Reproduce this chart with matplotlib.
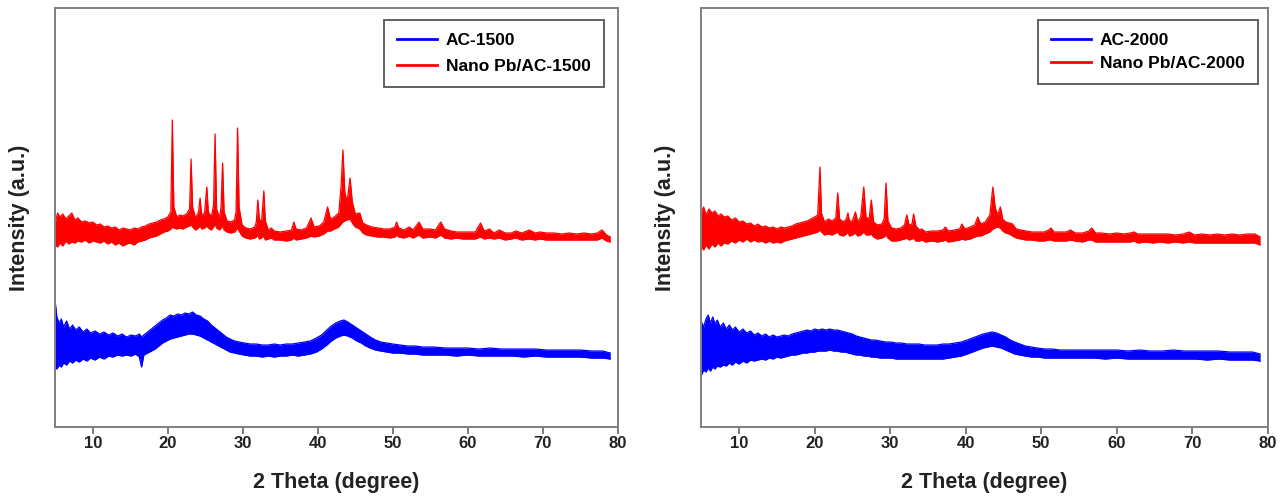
import matplotlib
matplotlib.use("Agg")
import matplotlib.pyplot as plt

plt.rcParams['font.family'] = ['Liberation Sans', 'DejaVu Sans']

# XRD traces: (2theta, lower edge, upper edge) of the noisy band
nano_1500 = [
    (5.0, 182, 205), (5.3, 180, 214), (5.6, 184, 210), (6.0, 181, 213), (6.4, 186, 208),
    (6.8, 183, 211), (7.2, 185, 214), (7.6, 184, 207), (8.0, 186, 209), (8.5, 185, 205),
    (9.0, 187, 206), (9.5, 184, 204), (10.0, 186, 205), (10.5, 185, 202), (11.0, 184, 203),
    (11.5, 186, 200), (12.0, 183, 201), (12.5, 185, 199), (13.0, 182, 200), (13.5, 184, 197),
    (14.0, 181, 199), (14.5, 183, 198), (15.0, 184, 197), (15.5, 182, 199), (16.0, 185, 198),
    (16.5, 186, 200), (17.0, 187, 201), (17.5, 189, 203), (18.0, 190, 204), (18.5, 191, 205),
    (19.0, 193, 207), (19.5, 195, 208), (20.0, 196, 210), (20.4, 198, 215), (20.6, 200, 307),
    (20.8, 199, 220), (21.2, 198, 210), (21.6, 199, 212), (22.0, 198, 211), (22.5, 200, 213),
    (22.9, 201, 218), (23.1, 203, 268), (23.3, 200, 220), (23.7, 197, 209), (24.1, 199, 215),
    (24.3, 202, 229), (24.5, 198, 212), (24.9, 199, 214), (25.2, 201, 240), (25.4, 199, 215),
    (25.8, 197, 210), (26.1, 200, 222), (26.3, 203, 293), (26.5, 199, 218), (26.9, 197, 209),
    (27.1, 199, 220), (27.3, 201, 264), (27.5, 197, 215), (27.9, 195, 206), (28.4, 194, 205),
    (28.9, 195, 207), (29.1, 197, 215), (29.3, 199, 299), (29.5, 196, 220), (29.9, 191, 202),
    (30.4, 189, 199), (31.0, 188, 198), (31.6, 189, 200), (31.8, 190, 205), (32.0, 192, 227),
    (32.2, 188, 208), (32.5, 189, 205), (32.8, 191, 236), (33.0, 187, 206), (33.4, 188, 197),
    (33.8, 189, 199), (34.2, 187, 196), (35.0, 187, 195), (35.8, 186, 196), (36.5, 187, 197),
    (36.8, 189, 205), (37.1, 187, 198), (37.8, 188, 197), (38.5, 189, 199), (39.1, 191, 209),
    (39.5, 190, 200), (40.2, 191, 201), (40.8, 193, 205), (41.3, 196, 220), (41.7, 196, 208),
    (42.2, 198, 210), (42.8, 200, 214), (43.1, 203, 240), (43.35, 205, 277), (43.6, 206, 235),
    (43.9, 207, 225), (44.3, 208, 249), (44.6, 204, 225), (45.0, 200, 213), (45.6, 198, 214),
    (46.0, 194, 204), (46.5, 192, 202), (47.2, 191, 200), (48.0, 190, 199), (48.8, 190, 198),
    (49.6, 189, 198), (50.3, 190, 200), (50.5, 192, 205), (50.8, 190, 199), (51.5, 189, 197),
    (52.2, 191, 200), (52.7, 189, 197), (53.5, 192, 205), (54.0, 189, 198), (55.0, 190, 198),
    (55.7, 189, 197), (56.4, 192, 205), (56.9, 189, 198), (57.8, 188, 196), (58.5, 189, 195),
    (59.3, 188, 195), (60.2, 188, 195), (61.0, 188, 195), (61.7, 190, 204), (62.2, 188, 196),
    (62.9, 189, 198), (63.5, 188, 194), (64.2, 189, 197), (65.0, 187, 194), (65.8, 188, 194),
    (66.4, 189, 196), (67.2, 187, 194), (68.2, 188, 197), (69.0, 187, 194), (69.6, 188, 195),
    (70.5, 187, 194), (71.5, 187, 194), (72.5, 187, 193), (73.5, 187, 194), (74.5, 187, 193),
    (75.5, 187, 194), (76.5, 187, 193), (77.3, 187, 194), (77.9, 189, 197), (78.5, 186, 192),
    (79.0, 185, 190),
]

ac_1500 = [
    (5.0, 60, 124), (5.2, 58, 110), (5.5, 62, 104), (5.8, 60, 108), (6.1, 64, 100),
    (6.5, 62, 106), (6.9, 66, 98), (7.3, 64, 102), (7.7, 67, 97), (8.2, 65, 100),
    (8.7, 68, 95), (9.2, 66, 98), (9.7, 69, 94), (10.3, 67, 96), (10.9, 70, 93),
    (11.5, 68, 95), (12.1, 71, 92), (12.7, 70, 94), (13.3, 72, 91), (13.9, 71, 93),
    (14.5, 72, 90), (15.1, 71, 92), (15.7, 73, 91), (16.2, 70, 93), (16.5, 60, 90),
    (16.8, 72, 92), (17.3, 74, 95), (17.8, 76, 98), (18.3, 78, 101), (18.8, 81, 104),
    (19.3, 84, 107), (19.8, 86, 109), (20.3, 88, 112), (20.8, 89, 111), (21.3, 90, 113),
    (21.8, 91, 112), (22.3, 92, 114), (22.8, 93, 113), (23.3, 93, 115), (23.8, 92, 112),
    (24.3, 91, 111), (24.8, 89, 108), (25.3, 87, 106), (25.8, 85, 102), (26.3, 83, 99),
    (26.8, 81, 96), (27.3, 79, 93), (27.8, 77, 90), (28.3, 75, 88), (28.9, 74, 86),
    (29.5, 73, 85), (30.2, 72, 84), (31.0, 71, 83), (31.8, 71, 83), (32.6, 70, 82),
    (33.4, 71, 82), (34.2, 70, 83), (35.0, 71, 82), (35.8, 71, 83), (36.6, 72, 83),
    (37.4, 71, 84), (38.2, 72, 85), (39.0, 73, 86), (39.8, 75, 89), (40.5, 78, 92),
    (41.2, 82, 97), (41.8, 86, 101), (42.4, 89, 104), (43.0, 91, 106), (43.5, 92, 107),
    (44.0, 91, 105), (44.6, 89, 102), (45.2, 86, 99), (45.8, 84, 96), (46.4, 81, 93),
    (47.0, 79, 90), (47.7, 77, 87), (48.4, 76, 85), (49.2, 75, 84), (50.0, 74, 83),
    (51.0, 74, 82), (52.0, 73, 81), (53.0, 73, 81), (54.0, 72, 80), (55.5, 72, 80),
    (57.0, 72, 79), (58.5, 71, 79), (60.0, 72, 79), (61.5, 71, 78), (63.0, 71, 79),
    (64.5, 71, 78), (66.0, 71, 78), (67.5, 70, 78), (69.0, 71, 78), (70.5, 70, 77),
    (72.0, 70, 77), (73.5, 70, 77), (75.0, 70, 77), (76.5, 69, 76), (78.0, 69, 76),
    (79.0, 68, 74),
]

nano_2000 = [
    (5.0, 180, 215), (5.3, 177, 220), (5.6, 182, 212), (6.0, 178, 218), (6.4, 183, 214),
    (6.8, 180, 216), (7.2, 184, 211), (7.6, 181, 213), (8.0, 184, 210), (8.5, 183, 211),
    (9.0, 186, 207), (9.5, 184, 209), (10.0, 187, 205), (10.5, 185, 206), (11.0, 188, 203),
    (11.5, 185, 204), (12.0, 187, 201), (12.5, 185, 203), (13.0, 186, 200), (13.5, 184, 201),
    (14.0, 186, 199), (14.5, 184, 200), (15.0, 185, 198), (15.5, 184, 200), (16.0, 186, 199),
    (16.5, 187, 200), (17.0, 188, 201), (17.5, 189, 203), (18.0, 190, 204), (18.5, 191, 205),
    (19.0, 192, 206), (19.5, 193, 208), (20.0, 194, 210), (20.4, 195, 212), (20.7, 197, 260),
    (20.9, 195, 214), (21.3, 192, 205), (21.8, 193, 208), (22.3, 192, 206), (22.8, 194, 209),
    (23.05, 195, 234), (23.3, 192, 208), (23.8, 191, 205), (24.2, 193, 208), (24.4, 195, 214),
    (24.6, 191, 206), (25.0, 192, 206), (25.4, 194, 215), (25.7, 191, 205), (26.1, 192, 210),
    (26.5, 195, 240), (26.8, 192, 210), (27.2, 192, 208), (27.5, 193, 227), (27.8, 190, 205),
    (28.3, 188, 202), (28.9, 189, 203), (29.2, 190, 208), (29.45, 192, 244), (29.7, 189, 206),
    (30.2, 186, 199), (30.8, 186, 198), (31.4, 187, 199), (31.9, 188, 202), (32.2, 189, 212),
    (32.5, 187, 202), (32.9, 188, 203), (33.1, 189, 213), (33.4, 186, 201), (33.9, 186, 197),
    (34.2, 187, 198), (34.7, 185, 195), (35.5, 186, 196), (36.3, 185, 196), (37.0, 186, 197),
    (37.3, 187, 200), (37.7, 185, 196), (38.5, 186, 197), (39.2, 187, 198), (39.5, 188, 203),
    (39.9, 187, 198), (40.6, 188, 200), (41.2, 190, 202), (41.6, 191, 210), (42.0, 191, 203),
    (42.6, 193, 205), (43.2, 195, 212), (43.6, 198, 240), (43.9, 199, 220), (44.2, 200, 212),
    (44.6, 199, 220), (44.9, 196, 208), (45.3, 194, 205), (45.8, 193, 204), (46.2, 191, 203),
    (46.7, 189, 198), (47.3, 188, 197), (48.0, 187, 196), (48.8, 187, 195), (49.6, 186, 195),
    (50.4, 186, 195), (51.0, 187, 197), (51.3, 187, 199), (51.7, 186, 195), (52.5, 186, 195),
    (53.3, 186, 195), (53.9, 187, 197), (54.5, 186, 194), (55.5, 185, 194), (56.3, 187, 196),
    (56.7, 187, 199), (57.2, 185, 194), (58.0, 185, 194), (59.0, 185, 193), (60.0, 185, 194),
    (61.0, 185, 193), (61.8, 185, 194), (62.3, 186, 195), (62.8, 184, 193), (63.8, 185, 193),
    (64.8, 184, 193), (65.8, 185, 193), (66.8, 184, 193), (67.8, 185, 192), (68.8, 184, 193),
    (69.6, 185, 195), (70.3, 184, 192), (71.3, 184, 193), (72.3, 184, 192), (73.3, 184, 193),
    (74.3, 184, 192), (75.3, 184, 193), (76.3, 184, 192), (77.3, 184, 193), (78.3, 184, 193),
    (79.0, 182, 190),
]

ac_2000 = [
    (5.0, 52, 105), (5.3, 57, 100), (5.6, 55, 108), (5.9, 59, 112), (6.2, 56, 104),
    (6.5, 60, 110), (6.8, 58, 103), (7.1, 61, 107), (7.5, 60, 100), (7.9, 62, 104),
    (8.3, 61, 98), (8.7, 64, 102), (9.1, 62, 97), (9.5, 65, 100), (10.0, 63, 95),
    (10.5, 66, 98), (11.0, 64, 94), (11.5, 67, 96), (12.0, 66, 92), (12.5, 67, 94),
    (13.0, 68, 91), (13.5, 67, 93), (14.0, 69, 90), (14.5, 68, 92), (15.0, 70, 90),
    (15.5, 69, 91), (16.0, 70, 92), (16.5, 71, 91), (17.0, 72, 93), (17.5, 72, 94),
    (18.0, 73, 95), (18.5, 74, 96), (19.0, 74, 97), (19.5, 75, 96), (20.0, 75, 98),
    (20.5, 76, 97), (21.0, 76, 98), (21.5, 76, 97), (22.0, 77, 98), (22.5, 76, 97),
    (23.0, 76, 97), (23.5, 75, 96), (24.0, 75, 95), (24.5, 74, 94), (25.0, 73, 93),
    (25.5, 72, 91), (26.0, 72, 90), (26.5, 71, 89), (27.0, 71, 88), (27.5, 70, 87),
    (28.0, 70, 87), (28.7, 69, 86), (29.4, 69, 85), (30.1, 69, 85), (30.8, 68, 84),
    (31.5, 68, 84), (32.2, 68, 83), (33.0, 68, 83), (33.8, 68, 83), (34.6, 68, 82),
    (35.4, 68, 82), (36.2, 68, 82), (37.0, 68, 83), (37.8, 69, 83), (38.6, 70, 84),
    (39.4, 71, 85), (40.2, 73, 87), (40.9, 75, 89), (41.6, 77, 91), (42.3, 79, 93),
    (42.9, 80, 94), (43.5, 81, 95), (44.1, 80, 94), (44.7, 79, 92), (45.3, 77, 90),
    (45.9, 75, 87), (46.5, 73, 85), (47.2, 72, 83), (47.9, 71, 81), (48.7, 70, 80),
    (49.5, 70, 79), (50.5, 69, 78), (51.5, 69, 78), (52.5, 69, 77), (54.0, 69, 77),
    (55.5, 69, 77), (57.0, 69, 77), (58.5, 68, 77), (60.0, 69, 77), (61.5, 68, 76),
    (63.0, 68, 77), (64.5, 68, 76), (66.0, 68, 76), (67.5, 68, 77), (69.0, 68, 76),
    (70.5, 68, 76), (72.0, 67, 76), (73.5, 68, 76), (75.0, 67, 75), (76.5, 67, 75),
    (78.0, 67, 75), (79.0, 66, 73),
]

labels_left = ['AC-1500', 'Nano Pb/AC-1500']
labels_right = ['AC-2000', 'Nano Pb/AC-2000']
xticks = [10, 20, 30, 40, 50, 60, 70, 80]

BLUE = '#0000FF'
RED = '#FF0000'


def draw_band(ax, trace, color, label):
    x, lo, hi = zip(*trace)
    ax.fill_between(x, lo, hi, color=color, lw=0)
    ax.plot(x, hi, color=color, lw=0.9)
    ax.plot(x, lo, color=color, lw=0.9, label=label)


def style_axes(ax):
    ax.set_xlim(5, 80)
    ax.set_ylim(0, 419)
    ax.set_xticks(xticks)
    ax.set_yticks([])
    ax.tick_params(axis='x', direction='out', length=5, width=1.2, color='#666666',
                   labelsize=12, pad=1.5, labelcolor='#222222')
    for lab in ax.get_xticklabels():
        lab.set_fontweight('bold')
    for sp in ax.spines.values():
        sp.set_color('#7f7f7f')
        sp.set_linewidth(1.4)
    ax.set_xlabel('2 Theta (degree)', fontsize=15.5, fontweight='bold', labelpad=15,
                  color='#222222')
    ax.set_ylabel('Intensity (a.u.)', fontsize=15.5, fontweight='bold', labelpad=18,
                  color='#222222')


fig = plt.figure(figsize=(12.87, 4.96), dpi=100)
ax1 = fig.add_axes([0.043, 0.139, 0.437, 0.845])
ax2 = fig.add_axes([0.545, 0.139, 0.440, 0.845])

for ax, ac, nano, labs, lsp, anchor in [(ax1, ac_1500, nano_1500, labels_left, 0.62, 0.975),
                                        (ax2, ac_2000, nano_2000, labels_right, 0.42, 0.982)]:
    draw_band(ax, nano, RED, labs[1])
    draw_band(ax, ac, BLUE, labs[0])
    style_axes(ax)
    h, l = ax.get_legend_handles_labels()
    leg = ax.legend(h[::-1], l[::-1], loc='upper right', bbox_to_anchor=(anchor, 0.971),
                    borderaxespad=0, fancybox=False, framealpha=1, edgecolor='#555555',
                    handlelength=2.3, handletextpad=0.5, labelspacing=lsp, borderpad=0.75,
                    prop={'weight': 'bold', 'size': 12.5})
    leg.get_frame().set_linewidth(1.3)
    for line in leg.get_lines():
        line.set_linewidth(2)

fig.savefig('out.png', dpi=100)
